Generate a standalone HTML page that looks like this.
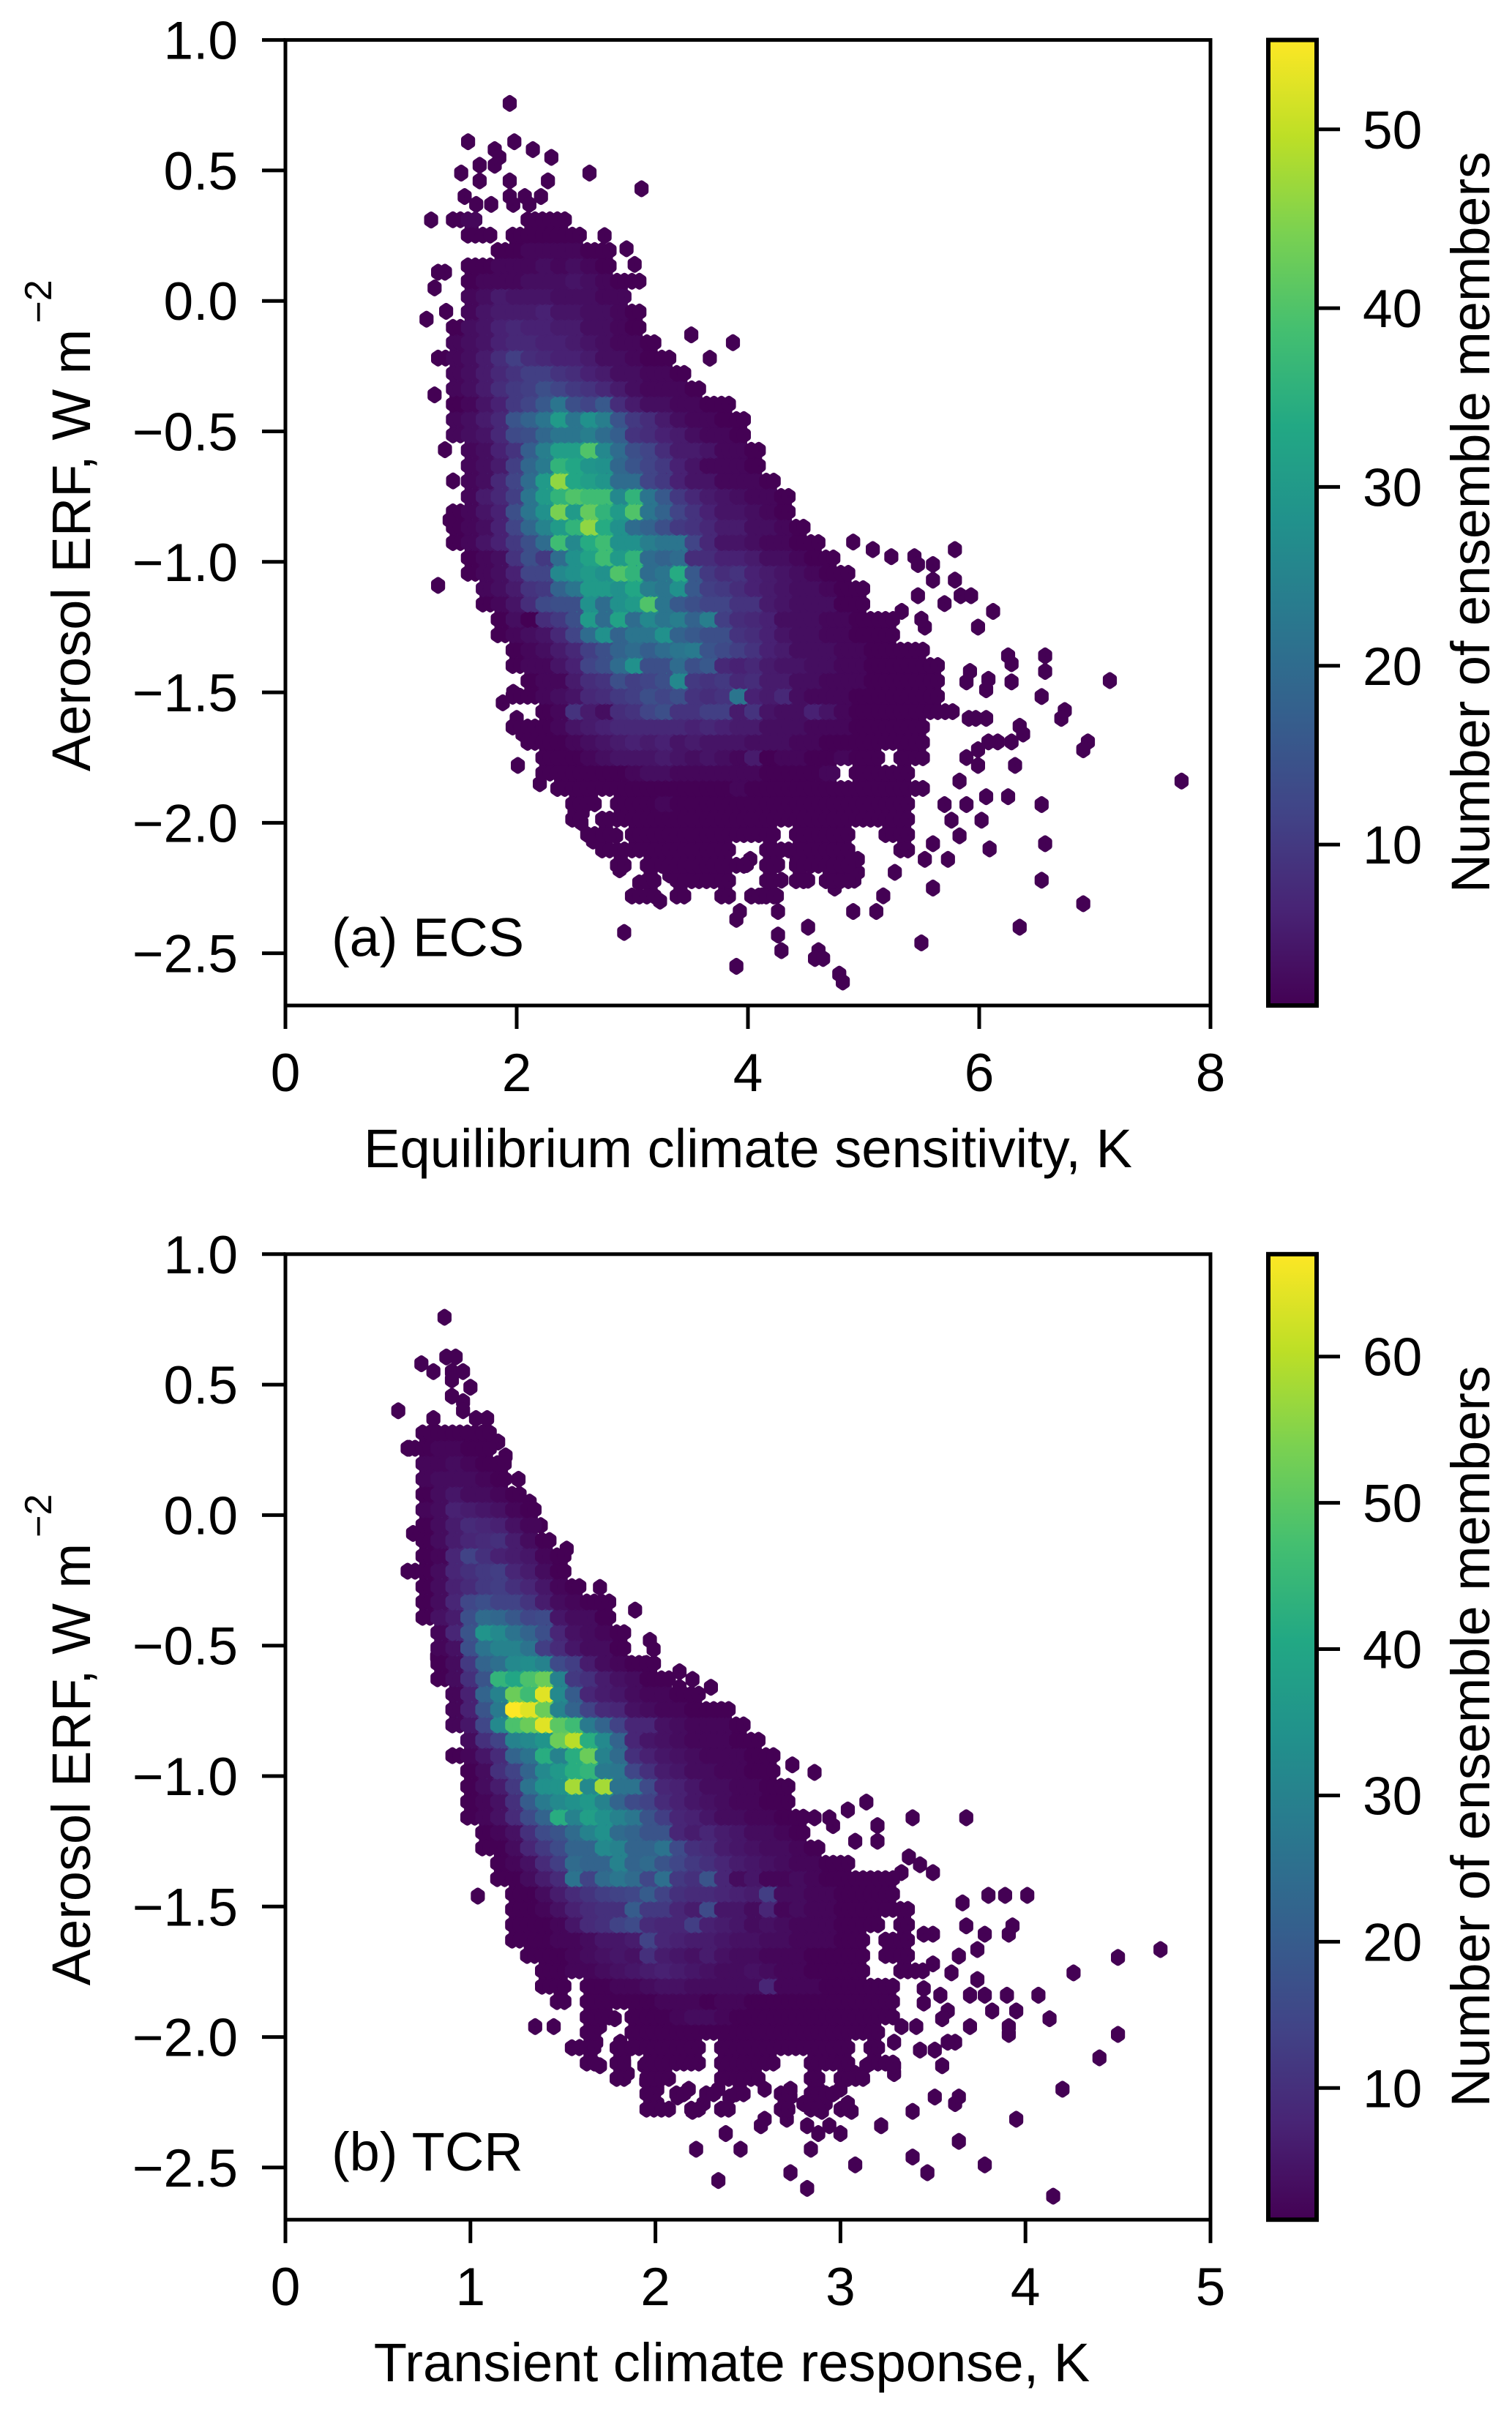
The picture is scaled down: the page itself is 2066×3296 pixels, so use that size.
<!DOCTYPE html>
<html lang="en">
<head>
<meta charset="utf-8">
<title>Aerosol ERF against ECS and TCR</title>
<style>
html,body{margin:0;padding:0;background:#fff}
svg{display:block}
text{font-family:"Liberation Sans",Arial,sans-serif;fill:#000;font-size:73px}
</style>
</head>
<body>
<svg id="figure" xmlns="http://www.w3.org/2000/svg" width="2066" height="3296" viewBox="0 0 2066 3296">
<defs>
<linearGradient id="viridis-a" x1="0" y1="1" x2="0" y2="0"></linearGradient>
<linearGradient id="viridis-b" x1="0" y1="1" x2="0" y2="0"></linearGradient>
</defs>
<rect x="0" y="0" width="2066" height="3296" fill="#ffffff"></rect>
</svg>
<script>
const erfTicks=[1,0.5,0,-0.5,-1,-1.5,-2,-2.5];
const ecsTicks=[0,2,4,6,8];
const tcrTicks=[0,1,2,3,4,5];
const ecsColorTicks=[10,20,30,40,50];
const tcrColorTicks=[10,20,30,40,50,60];
const viridisStops=["#440154","#482475","#414487","#355f8d","#2a788e","#21918c","#22a884","#44bf70","#7ad151","#bddf26","#fde725"];

const ecsFirstBin=1.32, ecsBinStep=0.129, ecsFirstRowErf=0.311, erfRowStep=0.0589;
const tcrFirstBin=0.58, tcrBinStep=0.0807, tcrFirstRowErf=0.315;

const ecsCounts=[
[0,1,2,0,0,0,1,1,1],
[0,0,1,1,0,1,1,1,1,1],
[0,0,0,0,1,1,2,2,2,2,1,1],
[0,0,1,1,2,2,2,3,2,3,2,1],
[0,0,1,2,2,2,3,3,3,4,3,2,1,1],
[0,0,2,3,5,4,4,4,3,3,3,2,2],
[0,0,2,4,5,5,5,6,4,4,3,3,2,1],
[0,1,3,4,6,7,6,6,5,5,3,3,2,1],
[0,2,3,4,6,7,7,6,6,5,4,3,2,2,1],
[1,2,3,5,8,11,8,7,6,6,5,3,3,2,1,1],
[0,2,3,5,7,9,11,11,9,8,6,5,3,3,2,2,1],
[0,2,3,5,8,10,11,14,12,10,9,7,5,3,2,2,2,1],
[0,1,2,4,6,10,12,16,22,14,12,16,8,5,3,3,2,2,1,1],
[0,2,3,5,7,15,18,22,30,22,28,24,15,10,8,5,3,2,2,1,1],
[0,2,3,4,7,13,14,19,22,22,24,20,17,9,8,6,5,3,2,2,1],
[0,0,2,3,6,9,17,24,31,31,40,26,20,14,12,8,5,5,4,2,2,1],
[0,0,2,3,5,11,19,23,36,33,29,28,19,15,12,10,6,4,2,2,2,1],
[0,0,2,3,7,12,20,30,46,33,31,29,20,20,12,10,6,4,4,2,2,2,1],
[0,0,2,5,7,11,22,30,36,40,38,38,26,36,22,16,10,7,5,4,3,2,2,1],
[0,1,2,4,6,14,22,28,44,30,42,36,30,40,22,18,12,9,6,4,4,3,2,1],
[0,1,2,3,6,12,19,25,30,36,46,34,28,20,18,14,10,9,7,5,5,3,3,2,1],
[0,1,2,4,6,10,14,20,38,26,34,38,28,28,24,22,22,12,7,4,4,3,2,2,1,1],
[0,0,1,2,3,9,14,10,20,28,32,38,30,36,20,18,20,8,8,6,6,5,3,3,2,1,1],
[0,0,1,2,3,6,12,12,26,28,30,28,40,36,20,22,34,16,10,8,9,6,5,4,3,2,1,1],
[0,0,0,2,3,5,9,10,18,22,30,30,28,33,24,22,28,16,11,10,8,6,5,4,3,3,2,1,1],
[0,0,0,1,2,4,8,13,14,14,28,20,28,30,40,22,16,14,12,12,9,9,5,4,3,3,3,1,1],
[0,0,0,0,1,3,1,8,10,14,30,20,32,20,26,22,24,18,24,11,8,7,6,3,3,3,2,2,1,1,1],
[0,0,0,0,1,2,3,4,7,12,20,28,18,22,22,28,18,16,14,14,9,8,6,4,3,3,2,2,1,1,1],
[0,0,0,0,0,1,2,3,5,7,11,14,18,20,17,20,22,23,15,13,11,9,6,5,3,3,3,2,2,1,1,1,1],
[0,0,0,0,0,1,2,2,4,6,12,14,20,28,14,14,20,14,16,7,6,7,5,4,4,3,3,2,2,1,1,1,1,1],
[0,0,0,0,0,0,1,2,2,5,8,9,14,11,12,14,26,10,9,10,7,8,5,5,3,3,2,2,2,1,1,1,1,1],
[0,0,0,0,0,1,1,2,3,4,7,8,10,11,14,12,14,9,8,9,22,6,5,7,3,2,2,2,1,1,1,1,1,1],
[0,0,0,0,0,0,0,1,2,9,5,3,8,9,12,14,9,9,11,11,5,9,4,3,3,6,4,2,1,1,1,1,1,1,1],
[0,0,0,0,0,1,1,1,2,4,5,6,7,7,7,7,7,6,7,6,5,5,3,3,3,2,2,2,1,1,1,1,1],
[0,0,0,0,0,0,1,1,1,2,3,4,5,6,5,6,4,5,4,4,4,3,3,3,2,2,1,1,1,1,1,1,1],
[0,0,0,0,0,0,0,1,1,1,2,3,4,4,4,5,4,3,4,3,2,5,1,2,2,1,1,2,1,1,0,1,1],
[0,0,0,0,0,0,0,1,1,1,1,1,1,2,3,3,2,2,2,2,2,2,1,1,1,1,2,0,1,1,1,1],
[0,0,0,0,0,0,0,0,1,1,1,1,1,1,1,1,1,1,1,1,2,1,1,1,1,1,1,1,1,1,1,1,1],
[0,0,0,0,0,0,0,0,0,1,1,0,1,1,1,2,1,1,1,1,1,1,1,1,1,1,1,1,1,1,1,1],
[0,0,0,0,0,0,0,0,0,1,0,1,1,1,1,1,1,1,1,1,1,1,1,1,1,1,1,1,1,1,1,1],
[0,0,0,0,0,0,0,0,0,0,1,1,0,1,1,1,1,1,1,1,1,1,1,0,1,1,1,1,0,0,1,1],
[0,0,0,0,0,0,0,0,0,0,0,1,1,1,1,1,1,1,1,1,0,0,1,1,1,1,1,1,0,0,0,1],
[0,0,0,0,0,0,0,0,0,0,0,0,1,0,1,1,1,1,1,1,1,0,1,0,1,1,1,1],
[0,0,0,0,0,0,0,0,0,0,0,0,0,0,1,0,1,1,1,1,0,0,1,0,1,0,1,1],
[0,0,0,0,0,0,0,0,0,0,0,0,0,1,1,0,1,0,0,1,0,1,1]
];

const ecsOutliers=[[1.94,0.757],[1.58,0.61],[1.98,0.61],[1.81,0.58],[2.14,0.58],[2.30,0.55],[1.85,0.55],[1.81,0.52],[1.68,0.52],[1.52,0.49],[2.63,0.49],[1.68,0.46],[1.94,0.46],[2.27,0.46],[3.08,0.43],[1.55,0.40],[1.94,0.40],[2.07,0.40],[2.21,0.40],[1.65,0.37],[1.78,0.37],[1.97,0.37],[2.11,0.37],[1.26,0.31],[2.76,0.25],[2.95,0.2],[3.02,0.14],[1.32,0.11],[1.38,0.11],[1.29,0.05],[1.22,-0.07],[1.39,-0.04],[3.87,-0.16],[3.51,-0.13],[3.67,-0.22],[1.29,-0.36],[1.48,-0.36],[1.38,-0.57],[1.45,-0.69],[1.42,-0.84],[1.32,-1.09],
[5.79,-0.953],[4.91,-0.924],[5.08,-0.953],[5.24,-0.98],[5.44,-0.98],[5.47,-1.01],[5.6,-1.01],[5.6,-1.07],[5.79,-1.07],[5.47,-1.13],[5.7,-1.16],[5.84,-1.13],[5.93,-1.13],[6.12,-1.19],[5.99,-1.25],[5.53,-1.25],[5.5,-1.22],[5.33,-1.19],[6.25,-1.36],[6.57,-1.36],[6.28,-1.39],[6.57,-1.42],[6.28,-1.46],[7.13,-1.455],[6.08,-1.45],[6.06,-1.49],[5.92,-1.42],[5.89,-1.46],[6.54,-1.516],[6.74,-1.57],[6.71,-1.6],[6.35,-1.63],[6.38,-1.66],[6.06,-1.6],[5.97,-1.6],[5.91,-1.6],[6.94,-1.69],[6.9,-1.72],[6.28,-1.69],[6.16,-1.69],[6.08,-1.69],[5.99,-1.72],[5.89,-1.75],[5.99,-1.78],[6.31,-1.78],[7.75,-1.84],[5.83,-1.84],[6.06,-1.9],[6.25,-1.9],[6.54,-1.93],[5.89,-1.93],[5.7,-1.93],[6.02,-1.99],[5.76,-1.99],[6.57,-2.08],[5.83,-2.05],[6.09,-2.1],[5.73,-2.14],[5.6,-2.08],[5.53,-2.14],[5.37,-2.1],[6.54,-2.22],[5.6,-2.25],[5.27,-2.19],[6.9,-2.31],[5.17,-2.28],[6.35,-2.4],[5.5,-2.46],[4.91,-2.34],[5.11,-2.34],[4.52,-2.4],[4.26,-2.34],[4.52,-2.22],[4.72,-2.22],[4.75,-2.25],[4.92,-2.22],[4.95,-2.19],[4.79,-2.16],[4.95,-2.14],[4.42,-2.14],[4.62,-2.14],[4.26,-2.43],[4.29,-2.49],[4.61,-2.49],[4.58,-2.52],[4.65,-2.52],[4.79,-2.58],[4.82,-2.61],[3.9,-2.55],[3.93,-2.34],[3.9,-2.37],[4.12,-2.28],[4.25,-2.28],[4.29,-2.22],[4.26,-2.16],[4.02,-2.14],[3.99,-2.16],
[2.2,-1.85],[2.57,-1.96],[2.66,-2.07],[2.86,-2.05],[3.06,-2.23],[3.24,-2.3],[2.89,-2.18],[3.32,-2.2],[2.93,-2.42],[2.01,-1.78],[1.97,-1.63],[1.88,-1.54],[2.0,-1.6],[1.97,-1.5],[2.05,-1.66],[2.5,-1.96],[2.56,-2.0]
];

const tcrCounts=[
[0,0,1,1,1,1,1],
[0,1,1,2,2,1,1],
[0,0,2,2,3,2,1,1],
[0,0,2,3,3,3,2,1],
[0,0,1,3,5,3,3,2,1],
[0,0,2,3,7,6,5,4,2,1],
[0,0,1,3,6,9,8,7,4,2],
[0,0,1,3,6,8,9,10,6,3,1],
[0,0,1,2,8,14,10,7,6,5,2,1],
[0,1,1,3,8,10,12,13,8,6,3,1],
[0,0,1,3,7,9,12,13,10,8,5,2,1],
[0,0,1,3,8,15,17,14,14,11,6,3,2,1,1],
[0,0,1,4,6,17,24,23,19,15,16,5,3,3,1],
[0,0,0,2,8,18,35,32,26,22,17,8,4,3,2,1],
[0,0,0,2,4,17,26,30,30,26,13,9,5,3,3,1],
[0,0,0,1,3,12,22,25,32,33,30,16,13,6,3,2,1,1],
[0,0,0,1,3,10,18,44,40,48,52,30,12,10,6,4,3,1,1],
[0,0,0,0,2,7,22,30,52,46,64,32,20,8,6,5,3,2,2,1,1],
[0,0,0,0,2,7,18,28,67,64,52,30,22,14,9,8,4,3,2,2,1,1,1],
[0,0,0,0,2,5,15,32,48,52,64,50,46,28,22,14,8,8,4,3,2,2,2,1],
[0,0,0,0,0,3,10,14,30,32,35,52,60,42,32,22,8,5,4,3,2,2,2,1,1],
[0,0,0,0,1,2,5,9,22,26,42,30,42,52,30,24,10,7,5,4,3,2,2,2,1,1],
[0,0,0,0,0,1,3,10,14,22,32,36,42,44,28,27,15,10,6,5,3,3,2,2,1,1],
[0,0,0,0,0,1,3,6,12,26,34,35,58,32,58,26,26,16,8,7,5,3,3,2,2,1,1],
[0,0,0,0,0,1,2,4,10,20,28,32,34,36,30,22,16,14,9,7,5,4,3,2,2,1,1],
[0,0,0,0,0,1,2,4,9,16,22,42,30,38,34,30,27,18,13,8,7,5,3,3,2,2,1,1],
[0,0,0,0,0,0,1,2,4,10,16,18,24,30,34,24,22,18,18,8,6,8,6,5,3,3,2,1],
[0,0,0,0,0,0,1,1,3,8,12,16,22,22,32,30,22,22,26,16,10,9,6,5,4,3,3,2,1],
[0,0,0,0,0,0,0,1,2,4,9,13,24,22,22,30,22,24,18,15,12,10,8,6,5,4,3,2,2,1,1],
[0,0,0,0,0,0,0,1,1,3,6,9,26,14,24,27,24,15,25,12,10,18,8,3,5,2,2,3,2,1,1,1,1,1],
[0,0,0,0,0,0,0,0,1,1,3,6,9,11,13,14,15,20,14,10,9,9,8,7,6,13,3,3,2,2,1,1,1,1],
[0,0,0,0,0,0,0,0,1,1,2,4,7,9,10,10,20,12,12,8,6,16,5,5,3,8,2,3,2,2,1,1,1,1,1],
[0,0,0,0,0,0,0,0,1,1,1,2,5,9,10,14,16,9,8,8,13,7,6,5,3,4,3,2,2,2,1,1,1,0,1],
[0,0,0,0,0,0,0,0,1,1,1,2,2,3,5,5,6,14,8,7,6,6,5,4,4,3,3,2,2,2,1,1,0,1,1],
[0,0,0,0,0,0,0,0,0,1,1,1,2,3,4,5,4,10,6,5,4,6,4,3,3,2,2,2,1,1,1,1,0,1,1],
[0,0,0,0,0,0,0,0,0,0,1,1,2,2,3,4,5,6,7,6,5,4,3,3,4,3,2,2,1,1,1,1,0,0,1,1],
[0,0,0,0,0,0,0,0,0,0,1,1,0,1,1,2,2,3,4,4,3,3,3,3,3,8,2,2,2,1,1,1,1,1],
[0,0,0,0,0,0,0,0,0,0,0,1,0,1,1,1,1,1,2,2,2,1,2,2,1,1,1,1,1,1,1,1,1,1],
[0,0,0,0,0,0,0,0,0,0,0,0,0,1,1,0,1,1,1,2,3,3,2,1,1,1,1,1,1,1,1,1,1,1],
[0,0,0,0,0,0,0,0,0,0,0,0,0,1,0,0,1,1,1,1,1,1,1,1,1,1,1,1,1,1,1,1,1],
[0,0,0,0,0,0,0,0,0,0,0,0,1,1,0,1,1,1,1,1,1,0,1,1,1,1,1,1,1,1,1,0,1],
[0,0,0,0,0,0,0,0,0,0,0,0,0,1,0,1,0,1,1,1,1,0,1,1,1,1,0,0,1,1,1,0,1,1],
[0,0,0,0,0,0,0,0,0,0,0,0,0,0,0,1,0,1,1,0,0,0,1,1,1,0,0,0,1,0,1,1],
[0,0,0,0,0,0,0,0,0,0,0,0,0,0,0,0,0,1,0,1,0,1,0,1,0,0,1,0,1,1],
[0,0,0,0,0,0,0,0,0,0,0,0,0,0,0,0,0,1,1,0,1,0,1,0,0,0,1,0,1,0,1]
];

const tcrOutliers=[[0.86,0.758],[0.87,0.606],[0.92,0.606],[0.735,0.58],[0.80,0.55],[0.90,0.55],[0.96,0.55],[0.90,0.518],[1.0,0.49],[0.90,0.456],[0.96,0.435],[0.61,0.40],[0.80,0.37],[0.96,0.40],[1.09,0.37],[1.03,0.37],[1.15,0.28],[0.67,0.256],[1.19,0.227],[1.26,0.137],[1.32,0.05],[0.69,-0.07],[1.38,-0.04],[1.52,-0.13],[1.46,-0.16],[0.75,-0.09],[1.70,-0.277],[1.67,-0.338],[1.72,-0.338],[1.89,-0.364],[1.97,-0.48],[1.99,-0.514],[0.82,-0.543],[1.85,-0.57],[1.94,-0.57],[2.13,-0.6],[2.2,-0.63],[2.13,-0.66],[2.3,-0.66],[2.36,-0.746],[2.34,-0.785],[2.41,-0.865],
[2.74,-0.957],[2.86,-0.986],[3.14,-1.10],[3.04,-1.13],[3.39,-1.16],[3.68,-1.16],[2.86,-1.16],[2.94,-1.16],[2.96,-1.19],[3.2,-1.19],[3.2,-1.25],[3.08,-1.25],[3.37,-1.31],[3.43,-1.34],[3.5,-1.37],[3.33,-1.37],[3.8,-1.457],[3.89,-1.457],[4.01,-1.457],[3.66,-1.486],[3.68,-1.574],[3.93,-1.574],[3.91,-1.606],[3.78,-1.606],[3.5,-1.606],[3.45,-1.606],[3.74,-1.665],[3.64,-1.69],[4.73,-1.665],[4.5,-1.695],[4.26,-1.754],[3.6,-1.754],[3.74,-1.78],[3.5,-1.72],[3.7,-1.84],[3.78,-1.84],[3.9,-1.84],[4.07,-1.84],[3.54,-1.84],[3.45,-1.815],[3.45,-1.87],[3.58,-1.9],[3.55,-1.93],[3.82,-1.9],[3.95,-1.9],[4.13,-1.93],[3.7,-1.96],[3.91,-1.96],[3.91,-1.99],[4.5,-1.99],[3.62,-2.02],[3.58,-2.02],[3.51,-2.05],[3.43,-2.05],[4.4,-2.08],[3.55,-2.11],[4.2,-2.2],[3.51,-2.23],[3.64,-2.23],[3.62,-2.255],[3.39,-2.285],[3.95,-2.315],[3.22,-2.34],[3.64,-2.4],[3.39,-2.46],[3.47,-2.52],[3.78,-2.49],[3.08,-2.49],[4.15,-2.61],[2.73,-2.52],[2.82,-2.58],[2.34,-2.55],[2.84,-2.43],[2.46,-2.43],[2.22,-2.43],[2.38,-2.37],[3.0,-2.37],[2.88,-2.37],[2.94,-2.34],[2.82,-2.34],[2.71,-2.315],[2.57,-2.34],[2.59,-2.315],[3.06,-2.285],[3.04,-2.255],[2.92,-2.255],[2.9,-2.285],[2.8,-2.255],[2.73,-2.23],[2.4,-2.23],[2.2,-2.285],[2.26,-2.255],[2.12,-2.23],[2.01,-2.255],[2.18,-2.2],[2.34,-2.2],[2.59,-2.2],[2.01,-2.2],[2.73,-2.2],[2.88,-2.2],[3.0,-2.2],[1.95,-2.17],[1.85,-2.14],[1.7,-2.11],[1.83,-2.08],[1.94,-2.11],[1.78,-1.93],[1.7,-1.96],[1.68,-2.02],[1.81,-2.02],[1.9,-2.02],[3.29,-2.14],[3.08,-2.14],[3.14,-2.11],[3.29,-2.11],[3.33,-1.96],[3.41,-1.96],[3.29,-2.02],[1.04,-1.46],[1.35,-1.96],[1.45,-1.96],[1.59,-2.04]
];

const svgNS='http://www.w3.org/2000/svg';
const figure=document.getElementById('figure');

function make(parent,tag,props){
  const el=document.createElementNS(svgNS,tag);
  for(const k in props){el.setAttribute(k,props[k]);}
  parent.appendChild(el);
  return el;
}
function viridis(t){
  const c=Math.max(0,Math.min(1,t))*(viridisStops.length-1);
  const i=Math.min(Math.floor(c),viridisStops.length-2);
  const f=c-i;
  const a=viridisStops[i],b=viridisStops[i+1];
  const ch=s=>Math.round(parseInt(a.substr(s,2),16)*(1-f)+parseInt(b.substr(s,2),16)*f);
  return 'rgb('+ch(1)+','+ch(3)+','+ch(5)+')';
}
function hexPoints(cx,cy,w,h){
  const hw=w/2,tip=h/3,sh=h/6;
  return [[cx+hw,cy-sh],[cx+hw,cy+sh],[cx,cy+tip],[cx-hw,cy+sh],[cx-hw,cy-sh],[cx,cy-tip]].map(p=>p[0].toFixed(1)+','+p[1].toFixed(1)).join(' ');
}

function drawPanel(p){
  const left=390,right=1654,top=p.top,bottom=p.top+1319.4;
  const xScale=v=>left+(v-p.xTicks[0])/(p.xTicks[p.xTicks.length-1]-p.xTicks[0])*(right-left);
  const yScale=v=>top+(1-v)/3.7*(bottom-top);
  const colorOf=v=>viridis((v-1)/(p.vmax-1));
  const panel=make(figure,'g',{});
  
  

  const hexWidth=xScale(p.binStep/2)-xScale(0);
  const hexHeight=yScale(0)-yScale(erfRowStep);
  const drawHex=(parent,xv,yv,count)=>{
    const col=colorOf(count);
    const hex=make(parent,'polygon',{points:hexPoints(xScale(xv),yScale(yv),hexWidth,hexHeight),fill:col,stroke:col,'stroke-width':9,'stroke-linejoin':'round'});
    
    
  };

  const bins=make(panel,'g',{});
  
  

  const cols=Math.max(...p.counts.map(r=>r.length));
  for(let j=0;j<cols;j++){
    for(let i=p.counts.length-2;i>=0;i--){
      const a=p.counts[i][j]||0,b=p.counts[i+1][j]||0;
      if(a>0&&b>0){
        const yv=p.firstRow-(i+0.5)*erfRowStep;
        drawHex(bins,p.firstBin+(j+0.25)*p.binStep,yv,(a+b)/2);
        const a2=p.counts[i][j+1]||0,b2=p.counts[i+1][j+1]||0;
        if(a2>0&&b2>0){
          drawHex(bins,p.firstBin+(j+0.75)*p.binStep,yv,(a+b+a2+b2)/4);
        }
      }
    }
  }
  p.outliers.forEach(o=>drawHex(bins,o[0],o[1],1));
  for(let j=0;j<cols;j++){
    for(let half=0;half<2;half++){
      for(let i=p.counts.length-1;i>=0;i--){
        const c=p.counts[i][j]||0;
        if(c>0){
          drawHex(bins,p.firstBin+(j+half/2)*p.binStep,p.firstRow-i*erfRowStep,c);
        }
      }
    }
  }

  const frame=make(panel,'rect',{x:left,y:top,width:right-left,height:bottom-top,fill:'none',stroke:'#000','stroke-width':5});
  
  

  erfTicks.forEach(v=>{
    const y=yScale(v);
    const tick=make(panel,'line',{x1:left,x2:left-32,y1:y,y2:y,stroke:'#000','stroke-width':5});
    
    
    const label=make(panel,'text',{x:325,y:y+26,'text-anchor':'end'});
    label.textContent=v.toFixed(1).replace('-','\u2212');
    
    
  });
  p.xTicks.forEach(v=>{
    const x=xScale(v);
    const tick=make(panel,'line',{x1:x,x2:x,y1:bottom,y2:bottom+32,stroke:'#000','stroke-width':5});
    
    
    const label=make(panel,'text',{x:x,y:bottom+117,'text-anchor':'middle'});
    label.textContent=String(v);
    
    
  });

  const xTitle=make(panel,'text',{x:p.xTitleCentre,y:bottom+221,'text-anchor':'middle','font-size':74.2,style:'font-size:74.2px'});
  xTitle.textContent=p.xTitle;
  
  

  const yTitle=make(panel,'text',{transform:'translate(123,'+(top+999.5)+') rotate(-90)',x:0,y:0,style:'font-size:74px'});
  
  
  const yMain=make(yTitle,'tspan',{});
  yMain.textContent='Aerosol ERF, W m';
  const ySup=make(yTitle,'tspan',{dx:8,dy:-53,style:'font-size:52px'});
  ySup.textContent='\u22122';

  const note=make(panel,'text',{x:453,y:top+1252,style:'font-size:74px'});
  note.textContent=p.note;
  
  

  const grad=document.getElementById(p.gradient);
  viridisStops.forEach((c,i)=>{
    make(grad,'stop',{offset:(i/(viridisStops.length-1)),'stop-color':c});
  });
  const bar=make(panel,'rect',{x:1733,y:top,width:66,height:bottom-top,fill:'url(#'+p.gradient+')',stroke:'#000','stroke-width':6});
  
  
  const cbScale=v=>bottom-(v-1)/(p.vmax-1)*(bottom-top);
  p.colorTicks.forEach(v=>{
    const y=cbScale(v);
    const tick=make(panel,'line',{x1:1799,x2:1831,y1:y,y2:y,stroke:'#000','stroke-width':5});
    
    
    const label=make(panel,'text',{x:1862,y:y+26});
    label.textContent=String(v);
    
    
  });
  const cbTitle=make(panel,'text',{transform:'translate(2035,'+(top+659)+') rotate(-90)',x:0,y:0,'text-anchor':'middle',style:'font-size:73.8px'});
  cbTitle.textContent='Number of ensemble members';
  
  
}

drawPanel({name:'ecs',top:54.6,xTicks:ecsTicks,counts:ecsCounts,outliers:ecsOutliers,firstBin:ecsFirstBin,binStep:ecsBinStep,firstRow:ecsFirstRowErf,vmax:55,colorTicks:ecsColorTicks,gradient:'viridis-a',xTitle:'Equilibrium climate sensitivity, K',xTitleCentre:1022,note:'(a) ECS'});
drawPanel({name:'tcr',top:1713.8,xTicks:tcrTicks,counts:tcrCounts,outliers:tcrOutliers,firstBin:tcrFirstBin,binStep:tcrBinStep,firstRow:tcrFirstRowErf,vmax:67,colorTicks:tcrColorTicks,gradient:'viridis-b',xTitle:'Transient climate response, K',xTitleCentre:1000,note:'(b) TCR'});
</script>
</body>
</html>
